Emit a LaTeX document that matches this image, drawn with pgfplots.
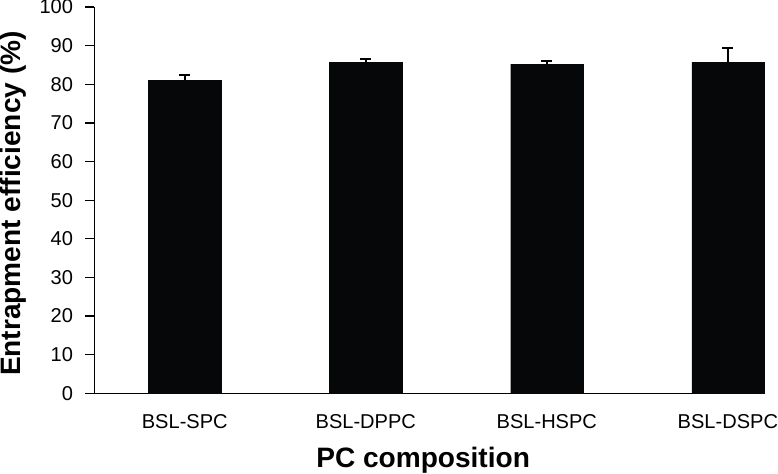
\documentclass[border=0pt]{standalone}
\usepackage{fontspec}
\setmainfont{Liberation Sans}
\usepackage{pgfplots}
\pgfplotsset{compat=1.18}

\definecolor{barblack}{HTML}{050708}

\begin{document}
\begin{tikzpicture}
\begin{axis}[
    scale only axis,
    width=668pt,
    height=385pt,
    axis lines=left,
    axis line style={-, line width=1.2pt},
    xmin=-0.5, xmax=3.2,
    ymin=0, ymax=100,
    ytick={0,10,...,100},
    xtick={0,1,2,3},
    xticklabels={BSL-SPC, BSL-DPPC, BSL-HSPC, BSL-DSPC},
    extra x ticks={-0.5,0.5,1.5,2.5},
    extra x tick labels={},
    major tick length=9pt,
    tick align=outside,
    tick style={line width=1.2pt, black},
    x tick style={draw=none},
    extra x tick style={tick style={line width=1.2pt, black, draw=black}, major tick length=7pt},
    /pgf/number format/assume math mode=true,
    ticklabel style={font=\fontsize{20}{24}\selectfont},
    yticklabel style={anchor=east, inner sep=0pt, xshift=-12pt},
    xticklabel style={anchor=north, inner sep=0pt, yshift=-12pt},
    xlabel={PC composition},
    ylabel={Entrapment efficiency (\%)},
    label style={font=\fontsize{28}{32}\selectfont\bfseries},
    xlabel style={at={(axis description cs:0.491,-0.140)}, anchor=north, inner sep=0pt},
    ylabel style={at={(axis description cs:-0.141,0.491)}, anchor=north, inner sep=0pt},
    clip=false,
]
\addplot[ybar, bar width=72pt, fill=barblack, draw=barblack,
    error bars/.cd, y dir=plus, y explicit,
    error bar style={line width=1.5pt, black},
    error mark options={rotate=90, black, mark size=5.5pt, line width=1.5pt}]
    coordinates {
    (0,81.0) +- (0,1.4)
    (1,85.6) +- (0,1.0)
    (2,85.2) +- (0,0.8)
    (3,85.7) +- (0,3.7)
};
\end{axis}
\end{tikzpicture}
\end{document}
